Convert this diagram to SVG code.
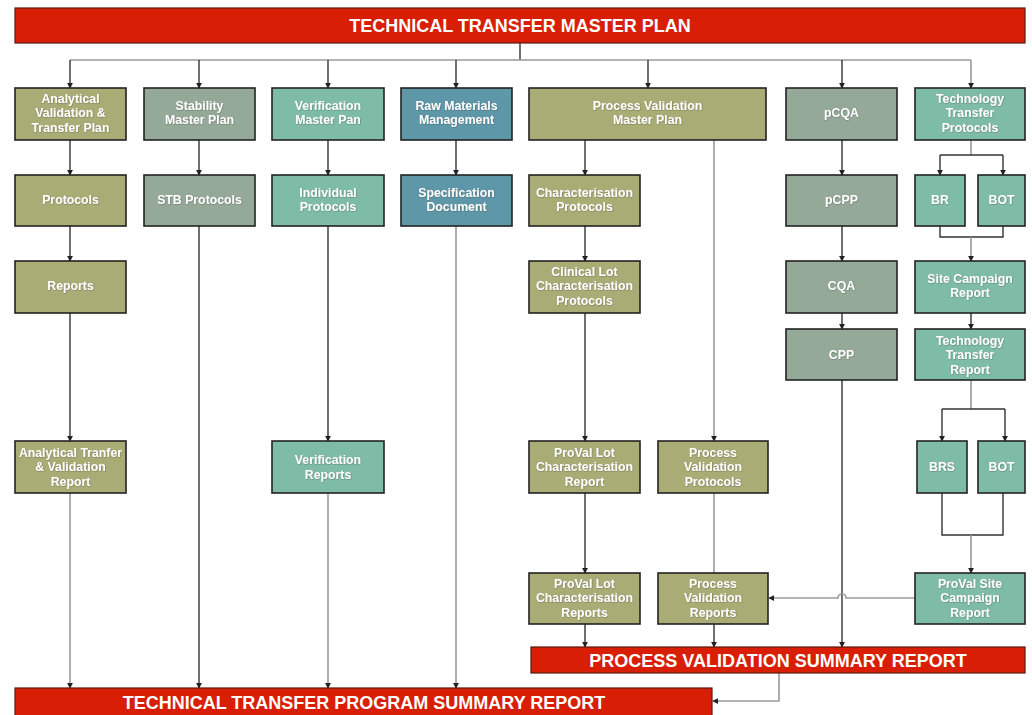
<svg xmlns="http://www.w3.org/2000/svg" width="1032" height="715" viewBox="0 0 1032 715">
  <style>
    .bar { fill: #D81E05; stroke: #5a1a10; stroke-width: 1.2; }
    .bar-t { font-family: "Liberation Sans", Arial, sans-serif; font-weight: bold; font-size: 18px; fill: #ffffff; text-anchor: middle; }
    .box { stroke: #222222; stroke-width: 1.6; }
    .olive { fill: #A9AC74; }
    .sage { fill: #94A997; }
    .teal { fill: #7EBCA8; }
    .blue { fill: #5E97A8; }
    .t { font-family: "Liberation Sans", Arial, sans-serif; font-weight: bold; font-size: 12.3px; fill: #ffffff; text-anchor: middle; filter: url(#soft); }
    .ln { fill: none; stroke: #333333; stroke-width: 1.4; }
    .lg { fill: none; stroke: #9a9a9a; stroke-width: 1.6; }
  </style>
  <defs>
    <marker id="ah" viewBox="0 0 8 8" refX="7" refY="4" markerWidth="6" markerHeight="6" orient="auto" markerUnits="userSpaceOnUse">
      <path d="M0,0 L8,4 L0,8 z" fill="#222222"/>
    </marker>
    <filter id="soft" x="-10%" y="-30%" width="120%" height="160%">
      <feDropShadow dx="0.4" dy="0.4" stdDeviation="0.5" flood-color="#333333" flood-opacity="0.6"/>
    </filter>
  </defs>

  <!-- connectors -->
  <g id="connectors">
    <!-- master plan fan-out -->
    <path class="ln" d="M520,43 V60"/>
    <path class="lg" d="M70,60 H971"/>
    <path class="ln" d="M70,60 V88" marker-end="url(#ah)"/>
    <path class="ln" d="M199,60 V88" marker-end="url(#ah)"/>
    <path class="ln" d="M328,60 V88" marker-end="url(#ah)"/>
    <path class="ln" d="M456,60 V88" marker-end="url(#ah)"/>
    <path class="ln" d="M648,60 V88" marker-end="url(#ah)"/>
    <path class="ln" d="M842,60 V88" marker-end="url(#ah)"/>
    <path class="lg" d="M971,60 V88" marker-end="url(#ah)"/>

    <!-- analytical column -->
    <path class="ln" d="M70,140 V175" marker-end="url(#ah)"/>
    <path class="ln" d="M70,226 V261" marker-end="url(#ah)"/>
    <path class="ln" d="M70,313 V441" marker-end="url(#ah)"/>
    <path class="lg" d="M70,493 V688" marker-end="url(#ah)"/>

    <!-- stability column -->
    <path class="ln" d="M199,140 V175" marker-end="url(#ah)"/>
    <path class="ln" d="M199,226 V688" marker-end="url(#ah)"/>

    <!-- verification column -->
    <path class="ln" d="M328,140 V175" marker-end="url(#ah)"/>
    <path class="ln" d="M328,226 V441" marker-end="url(#ah)"/>
    <path class="lg" d="M328,493 V688" marker-end="url(#ah)"/>

    <!-- raw materials column -->
    <path class="ln" d="M456,140 V175" marker-end="url(#ah)"/>
    <path class="lg" d="M456,226 V688" marker-end="url(#ah)"/>

    <!-- process validation column -->
    <path class="ln" d="M585,140 V175" marker-end="url(#ah)"/>
    <path class="ln" d="M585,226 V261" marker-end="url(#ah)"/>
    <path class="ln" d="M585,313 V441" marker-end="url(#ah)"/>
    <path class="ln" d="M585,493 V573" marker-end="url(#ah)"/>
    <path class="ln" d="M585,624 V647" marker-end="url(#ah)"/>
    <path class="lg" d="M714,140 V441" marker-end="url(#ah)"/>
    <path class="lg" d="M714,493 V573"/>
    <path class="ln" d="M714,624 V647" marker-end="url(#ah)"/>

    <!-- pCQA column -->
    <path class="ln" d="M842,140 V175" marker-end="url(#ah)"/>
    <path class="ln" d="M842,226 V261" marker-end="url(#ah)"/>
    <path class="ln" d="M842,313 V329" marker-end="url(#ah)"/>
    <path class="ln" d="M842,380 V647" marker-end="url(#ah)"/>

    <!-- technology transfer column -->
    <path class="lg" d="M971,140 V155"/>
    <path class="ln" d="M940,155 H1003"/>
    <path class="ln" d="M940,155 V175" marker-end="url(#ah)"/>
    <path class="ln" d="M1003,155 V175" marker-end="url(#ah)"/>
    <path class="ln" d="M940,226 V237 H1003 V226"/>
    <path class="lg" d="M971,237 V261" marker-end="url(#ah)"/>
    <path class="ln" d="M971,313 V329" marker-end="url(#ah)"/>
    <path class="lg" d="M971,380 V409"/>
    <path class="ln" d="M942,409 H1005"/>
    <path class="ln" d="M942,409 V441" marker-end="url(#ah)"/>
    <path class="ln" d="M1005,409 V441" marker-end="url(#ah)"/>
    <path class="ln" d="M942,493 V535 H1003 V493"/>
    <path class="lg" d="M971,535 V573" marker-end="url(#ah)"/>
    <path class="lg" d="M915,598 H846 A4,4 0 0 0 838,598 H769" marker-end="url(#ah)"/>

    <!-- summary report hand-off -->
    <path class="lg" d="M779,673 V701 H713" marker-end="url(#ah)"/>
  </g>

  <!-- banner bars -->
  <g id="master-plan">
    <rect class="bar" x="15" y="8" width="1010" height="35"/>
    <text class="bar-t" x="520" y="32">TECHNICAL TRANSFER MASTER PLAN</text>
  </g>
  <g id="pv-summary">
    <rect class="bar" x="531" y="647" width="494" height="26"/>
    <text class="bar-t" x="778" y="666.5">PROCESS VALIDATION SUMMARY REPORT</text>
  </g>
  <g id="program-summary">
    <rect class="bar" x="15" y="688" width="697" height="30"/>
    <text class="bar-t" x="364" y="708.5">TECHNICAL TRANSFER PROGRAM SUMMARY REPORT</text>
  </g>

  <!-- row 1 -->
  <g id="analytical-plan">
    <rect class="box olive" x="15" y="88" width="111" height="52"/>
    <text class="t" x="70.5" y="102.5">Analytical<tspan x="70.5" dy="14.5">Validation &amp;</tspan><tspan x="70.5" dy="14.5">Transfer Plan</tspan></text>
  </g>
  <g id="stability-plan">
    <rect class="box sage" x="144" y="88" width="111" height="52"/>
    <text class="t" x="199.5" y="109.5">Stability<tspan x="199.5" dy="14.5">Master Plan</tspan></text>
  </g>
  <g id="verification-plan">
    <rect class="box teal" x="272" y="88" width="112" height="52"/>
    <text class="t" x="328" y="109.5">Verification<tspan x="328" dy="14.5">Master Pan</tspan></text>
  </g>
  <g id="raw-materials">
    <rect class="box blue" x="401" y="88" width="111" height="52"/>
    <text class="t" x="456.5" y="109.5">Raw Materials<tspan x="456.5" dy="14.5">Management</tspan></text>
  </g>
  <g id="pv-master-plan">
    <rect class="box olive" x="529" y="88" width="237" height="52"/>
    <text class="t" x="647.5" y="109.5">Process Validation<tspan x="647.5" dy="14.5">Master Plan</tspan></text>
  </g>
  <g id="pcqa">
    <rect class="box sage" x="786" y="88" width="111" height="52"/>
    <text class="t" x="841.5" y="117">pCQA</text>
  </g>
  <g id="tt-protocols">
    <rect class="box teal" x="915" y="88" width="110" height="52"/>
    <text class="t" x="970" y="102.5">Technology<tspan x="970" dy="14.5">Transfer</tspan><tspan x="970" dy="14.5">Protocols</tspan></text>
  </g>

  <!-- row 2 -->
  <g id="protocols">
    <rect class="box olive" x="15" y="175" width="111" height="51"/>
    <text class="t" x="70.5" y="204">Protocols</text>
  </g>
  <g id="stb-protocols">
    <rect class="box sage" x="144" y="175" width="111" height="51"/>
    <text class="t" x="199.5" y="204">STB Protocols</text>
  </g>
  <g id="individual-protocols">
    <rect class="box teal" x="272" y="175" width="112" height="51"/>
    <text class="t" x="328" y="196.5">Individual<tspan x="328" dy="14.5">Protocols</tspan></text>
  </g>
  <g id="specification">
    <rect class="box blue" x="401" y="175" width="111" height="51"/>
    <text class="t" x="456.5" y="196.5">Specification<tspan x="456.5" dy="14.5">Document</tspan></text>
  </g>
  <g id="char-protocols">
    <rect class="box olive" x="529" y="175" width="111" height="51"/>
    <text class="t" x="584.5" y="196.5">Characterisation<tspan x="584.5" dy="14.5">Protocols</tspan></text>
  </g>
  <g id="pcpp">
    <rect class="box sage" x="786" y="175" width="111" height="51"/>
    <text class="t" x="841.5" y="204">pCPP</text>
  </g>
  <g id="br">
    <rect class="box teal" x="915" y="175" width="50" height="51"/>
    <text class="t" x="940" y="204">BR</text>
  </g>
  <g id="bot-1">
    <rect class="box teal" x="978" y="175" width="47" height="51"/>
    <text class="t" x="1001.5" y="204">BOT</text>
  </g>

  <!-- row 3 -->
  <g id="reports">
    <rect class="box olive" x="15" y="261" width="111" height="52"/>
    <text class="t" x="70.5" y="290">Reports</text>
  </g>
  <g id="clinical-lot">
    <rect class="box olive" x="529" y="261" width="111" height="52"/>
    <text class="t" x="584.5" y="275.5">Clinical Lot<tspan x="584.5" dy="14.5">Characterisation</tspan><tspan x="584.5" dy="14.5">Protocols</tspan></text>
  </g>
  <g id="cqa">
    <rect class="box sage" x="786" y="261" width="111" height="52"/>
    <text class="t" x="841.5" y="290">CQA</text>
  </g>
  <g id="site-campaign">
    <rect class="box teal" x="915" y="261" width="110" height="52"/>
    <text class="t" x="970" y="282.5">Site Campaign<tspan x="970" dy="14.5">Report</tspan></text>
  </g>

  <!-- row 4 -->
  <g id="cpp">
    <rect class="box sage" x="786" y="329" width="111" height="51"/>
    <text class="t" x="841.5" y="359">CPP</text>
  </g>
  <g id="tt-report">
    <rect class="box teal" x="915" y="329" width="110" height="51"/>
    <text class="t" x="970" y="344.5">Technology<tspan x="970" dy="14.5">Transfer</tspan><tspan x="970" dy="14.5">Report</tspan></text>
  </g>

  <!-- row 5 -->
  <g id="analytical-report">
    <rect class="box olive" x="15" y="441" width="111" height="52"/>
    <text class="t" x="70.5" y="456.5">Analytical Tranfer<tspan x="70.5" dy="14.5">&amp; Validation</tspan><tspan x="70.5" dy="14.5">Report</tspan></text>
  </g>
  <g id="verification-reports">
    <rect class="box teal" x="272" y="441" width="112" height="52"/>
    <text class="t" x="328" y="464">Verification<tspan x="328" dy="14.5">Reports</tspan></text>
  </g>
  <g id="proval-lot-report">
    <rect class="box olive" x="529" y="441" width="111" height="52"/>
    <text class="t" x="584.5" y="456.5">ProVal Lot<tspan x="584.5" dy="14.5">Characterisation</tspan><tspan x="584.5" dy="14.5">Report</tspan></text>
  </g>
  <g id="pv-protocols">
    <rect class="box olive" x="658" y="441" width="110" height="52"/>
    <text class="t" x="713" y="456.5">Process<tspan x="713" dy="14.5">Validation</tspan><tspan x="713" dy="14.5">Protocols</tspan></text>
  </g>
  <g id="brs">
    <rect class="box teal" x="917" y="441" width="50" height="52"/>
    <text class="t" x="942" y="471">BRS</text>
  </g>
  <g id="bot-2">
    <rect class="box teal" x="978" y="441" width="47" height="52"/>
    <text class="t" x="1001.5" y="471">BOT</text>
  </g>

  <!-- row 6 -->
  <g id="proval-lot-reports">
    <rect class="box olive" x="529" y="573" width="111" height="51"/>
    <text class="t" x="584.5" y="587.5">ProVal Lot<tspan x="584.5" dy="14.5">Characterisation</tspan><tspan x="584.5" dy="14.5">Reports</tspan></text>
  </g>
  <g id="pv-reports">
    <rect class="box olive" x="658" y="573" width="110" height="51"/>
    <text class="t" x="713" y="587.5">Process<tspan x="713" dy="14.5">Validation</tspan><tspan x="713" dy="14.5">Reports</tspan></text>
  </g>
  <g id="proval-site-report">
    <rect class="box teal" x="915" y="573" width="110" height="51"/>
    <text class="t" x="970" y="587.5">ProVal Site<tspan x="970" dy="14.5">Campaign</tspan><tspan x="970" dy="14.5">Report</tspan></text>
  </g>
</svg>
